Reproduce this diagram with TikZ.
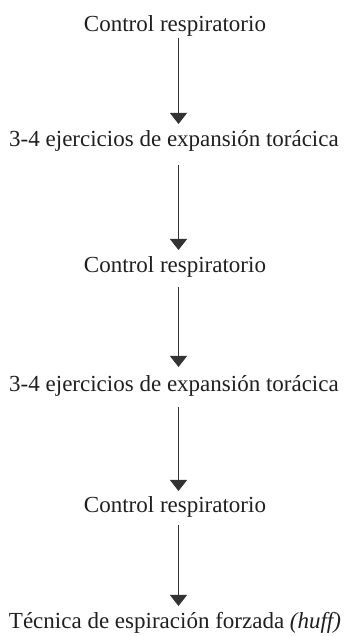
\documentclass[tikz,border=0pt]{standalone}
\usepackage{fontspec}
\setmainfont{Liberation Serif}
\usetikzlibrary{arrows.meta}
\tikzset{
  lbl/.style={anchor=base, inner sep=0pt, font=\fontsize{23}{26}\selectfont, text=black!88},
  arr/.style={draw=black!80, line width=0.9pt, -{Triangle[width=17pt,length=11pt]}}
}
\begin{document}
\begin{tikzpicture}[x=1pt,y=1pt]
\useasboundingbox (0,0) rectangle (343,636);
\node[lbl] (t1) at (175,604) {Control respiratorio};
\node[lbl] (t2) at (174,489) {3-4 ejercicios de expansión torácica};
\node[lbl] (t3) at (175,363) {Control respiratorio};
\node[lbl] (t4) at (174,244) {3-4 ejercicios de expansión torácica};
\node[lbl] (t5) at (175,123) {Control respiratorio};
\node[lbl] (t6) at (175,8) {Técnica de espiración forzada \textit{(huff)}};
\draw[arr] ([xshift=3.5pt,yshift=-6pt]t1.base) -- ([xshift=4.5pt,yshift=23pt]t2.base);
\draw[arr] ([xshift=4.5pt,yshift=-18pt]t2.base) -- ([xshift=3.5pt,yshift=23pt]t3.base);
\draw[arr] ([xshift=3.5pt,yshift=-14pt]t3.base) -- ([xshift=4.5pt,yshift=25pt]t4.base);
\draw[arr] ([xshift=4.5pt,yshift=-15pt]t4.base) -- ([xshift=3.5pt,yshift=22pt]t5.base);
\draw[arr] ([xshift=3.5pt,yshift=-12pt]t5.base) -- ([xshift=3.5pt,yshift=22pt]t6.base);
\end{tikzpicture}
\end{document}
